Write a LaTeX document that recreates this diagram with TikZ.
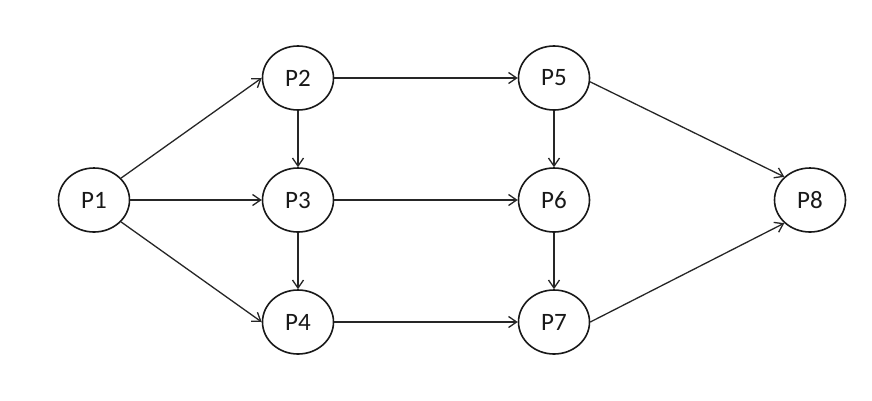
\documentclass[tikz,border=0pt]{standalone}
\usepackage{fontspec}
\setmainfont{Carlito}
\usetikzlibrary{arrows.meta,shapes.geometric}
\begin{document}
\begin{tikzpicture}[x=1pt,y=-1pt,
  proc/.style={draw=black!90,line width=1.6pt,ellipse,minimum width=71pt,minimum height=64pt,inner sep=0pt,font=\fontsize{25}{28}\selectfont,text=black!90},
  edge/.style={draw=black!85,line width=1.3pt,-{Straight Barb[length=8pt,width=11pt,line width=1.3pt]}}]
\useasboundingbox (0,0) rectangle (872,400);
\fill[white] (0,0) rectangle (872,400);
\node[proc] (P1) at (94,200) {P1};
\node[proc] (P2) at (298,78) {P2};
\node[proc] (P3) at (298,200) {P3};
\node[proc] (P4) at (298,322) {P4};
\node[proc] (P5) at (554,78) {P5};
\node[proc] (P6) at (554,200) {P6};
\node[proc] (P7) at (554,322) {P7};
\node[proc] (P8) at (810,200) {P8};
\draw[edge] (P1.39) -- (P2.west);
\draw[edge] (P1.east) -- (P3.west);
\draw[edge] (P1.-39) -- (P4.west);
\draw[edge] (P2.south) -- (P3.north);
\draw[edge] (P3.south) -- (P4.north);
\draw[edge] (P2.east) -- (P5.west);
\draw[edge] (P3.east) -- (P6.west);
\draw[edge] (P4.east) -- (P7.west);
\draw[edge] (P5.south) -- (P6.north);
\draw[edge] (P6.south) -- (P7.north);
\draw[edge] (P5.-6) -- (P8.138);
\draw[edge] (P7.east) -- (P8.222);
\end{tikzpicture}
\end{document}
